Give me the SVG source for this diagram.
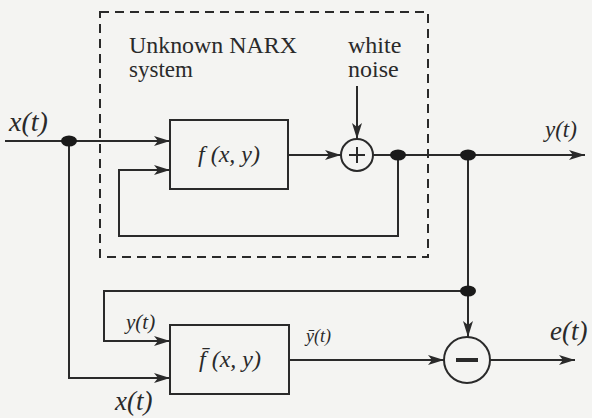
<svg xmlns="http://www.w3.org/2000/svg" width="592" height="418" viewBox="0 0 592 418">
<defs>
<marker id="ah" viewBox="0 0 16 10" refX="16" refY="5" markerWidth="16" markerHeight="10" markerUnits="userSpaceOnUse" orient="auto">
<path d="M0,0 L16,5 L0,10 L4,5 Z" fill="#2a2a2a"/>
</marker>
<style>
.ln{fill:none;stroke:#2a2a2a;stroke-width:2}
.bx{fill:none;stroke:#2a2a2a;stroke-width:2}
.dot{fill:#1a1a1a}
text{font-family:'Liberation Serif','Times New Roman',serif;fill:#2a2a2a}
.m{font-style:italic}
</style>
</defs>
<rect width="592" height="418" fill="#f4f4f2"/>
<g id="narx-boundary">
<rect x="100" y="12" width="328" height="245" fill="none" stroke="#2a2a2a" stroke-width="2" stroke-dasharray="9,6"/>
<text x="129" y="53" font-size="23" textLength="168" lengthAdjust="spacingAndGlyphs">Unknown NARX</text>
<text x="129" y="77" font-size="23">system</text>
</g>
<g id="noise-label">
<text x="348" y="53" font-size="24">white</text>
<text x="348" y="77" font-size="24">noise</text>
</g>
<g id="f-block">
<rect class="bx" x="170" y="120" width="118" height="69"/>
<text class="m" x="229" y="162" font-size="24" text-anchor="middle">f (x, y)</text>
</g>
<g id="sum">
<circle class="bx" cx="357" cy="155" r="16"/>
<path class="ln" d="M349,155 H365 M357,147 V163"/>
</g>
<g id="f-hat-block">
<rect class="bx" x="170" y="325" width="119" height="69"/>
<text class="m" x="230" y="367" font-size="24" text-anchor="middle">f̄ (x, y)</text>
</g>
<g id="diff">
<circle class="bx" cx="467" cy="360" r="23"/>
<path d="M456,360 H478" stroke="#2a2a2a" stroke-width="4"/>
</g>
<g id="connectors">
<path class="ln" d="M5,141 H170" marker-end="url(#ah)"/>
<path class="ln" d="M398,155 V236 H119 V170 H170" marker-end="url(#ah)"/>
<path class="ln" d="M288,155 H341" marker-end="url(#ah)"/>
<path class="ln" d="M357,86 V139" marker-end="url(#ah)"/>
<path class="ln" d="M373,155 H585" marker-end="url(#ah)"/>
<path class="ln" d="M468,155 V337" marker-end="url(#ah)"/>
<path class="ln" d="M468,291 H104 V341 H170" marker-end="url(#ah)"/>
<path class="ln" d="M69,141 V378 H170" marker-end="url(#ah)"/>
<path class="ln" d="M289,360 H444" marker-end="url(#ah)"/>
<path class="ln" d="M490,360 H575" marker-end="url(#ah)"/>
<ellipse class="dot" cx="69" cy="141" rx="8" ry="5.5"/>
<ellipse class="dot" cx="398" cy="155" rx="8" ry="5.5"/>
<ellipse class="dot" cx="468" cy="155" rx="8" ry="5.5"/>
<ellipse class="dot" cx="468" cy="291" rx="8" ry="5.5"/>
</g>
<g id="labels">
<text class="m" x="9" y="131" font-size="28">x(t)</text>
<text class="m" x="545" y="137" font-size="23">y(t)</text>
<text class="m" x="126" y="329" font-size="21">y(t)</text>
<text class="m" x="306" y="342" font-size="18">ȳ(t)</text>
<text class="m" x="115" y="410" font-size="27">x(t)</text>
<text class="m" x="550" y="340" font-size="27">e(t)</text>
</g>
</svg>
